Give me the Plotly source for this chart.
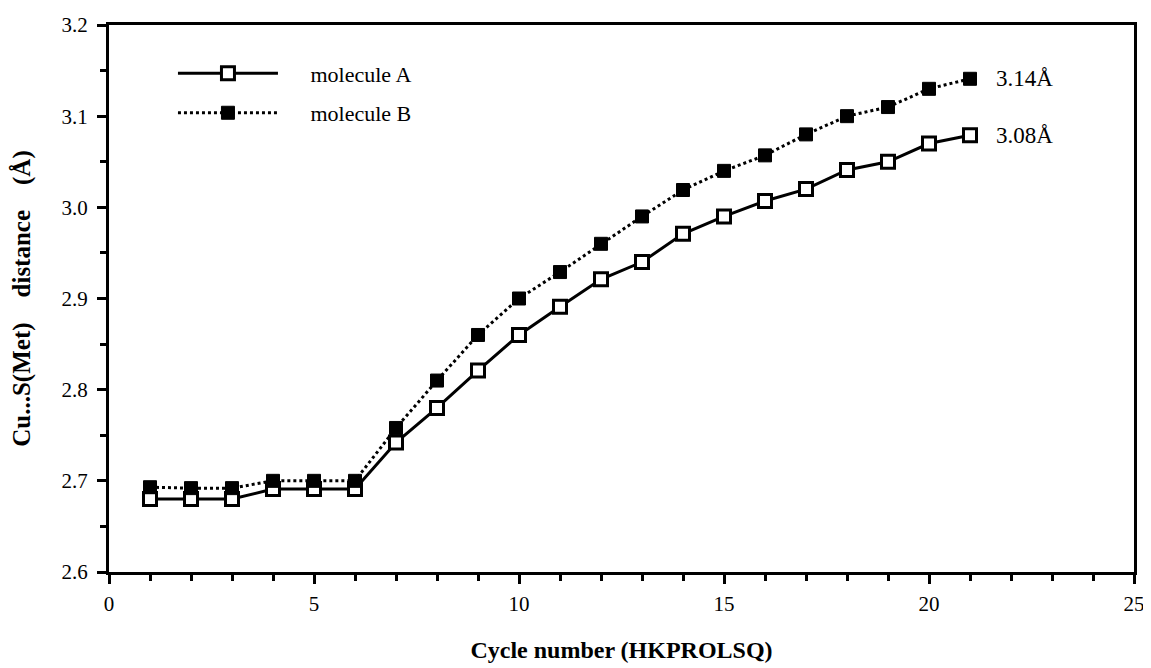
import plotly.graph_objects as go

cycles = list(range(1, 22))
mol_a = [2.680, 2.680, 2.680, 2.691, 2.691, 2.691, 2.742, 2.780, 2.821, 2.860, 2.891,
         2.921, 2.940, 2.971, 2.990, 3.007, 3.020, 3.041, 3.050, 3.070, 3.079]
mol_b = [2.693, 2.692, 2.692, 2.700, 2.700, 2.700, 2.758, 2.810, 2.860, 2.900, 2.929,
         2.960, 2.990, 3.019, 3.040, 3.057, 3.080, 3.100, 3.110, 3.130, 3.141]
series_names = ["molecule A", "molecule B"]
end_labels = ["3.14Å", "3.08Å"]

SERIF = "Liberation Serif"
PAD = "\u00a0" * 5

fig = go.Figure()
fig.add_trace(go.Scatter(
    x=cycles, y=mol_a, name=PAD + series_names[0], mode="lines+markers",
    line=dict(color="black", width=3),
    marker=dict(symbol="square", size=13, color="white", line=dict(color="black", width=3)),
    legendgroup="a",
))
fig.add_trace(go.Scatter(
    x=cycles, y=mol_b, name=PAD + series_names[1], mode="lines+markers",
    line=dict(color="black", width=3, dash="dot"),
    marker=dict(symbol="square", size=13, color="black", line=dict(color="black", width=1)),
    legendgroup="b",
))

fig.add_annotation(x=cycles[-1], y=mol_b[-1], text=end_labels[0], showarrow=False,
                   xanchor="left", xshift=24, font=dict(family=SERIF, size=23, color="black"))
fig.add_annotation(x=cycles[-1], y=mol_a[-1], text=end_labels[1], showarrow=False,
                   xanchor="left", xshift=24, font=dict(family=SERIF, size=23, color="black"))

fig.update_layout(
    width=1143, height=660,
    margin=dict(l=101, r=17, t=17, b=96),
    paper_bgcolor="white", plot_bgcolor="white",
    showlegend=True,
    legend=dict(x=0.0624, y=0.950, xanchor="left", yanchor="top",
                font=dict(family=SERIF, size=22, color="black"),
                itemwidth=100, tracegroupgap=8, bgcolor="rgba(0,0,0,0)"),
    xaxis=dict(
        range=[0, 25], tickvals=[0, 5, 10, 15, 20, 25], automargin=False,
        showline=True, linecolor="black", linewidth=3, mirror=True,
        ticks="outside", ticklen=9, tickwidth=3, tickcolor="black",
        minor=dict(dtick=1, ticks="outside", ticklen=6, tickwidth=2.5, tickcolor="black"),
        showgrid=False, zeroline=False, ticklabelstandoff=2,
        tickfont=dict(family=SERIF, size=21, color="black"),
        title=dict(text="<b>Cycle number (HKPROLSQ)</b>", standoff=26,
                   font=dict(family=SERIF, size=24, color="black")),
    ),
    yaxis=dict(
        range=[2.6, 3.2], tickvals=[2.6, 2.7, 2.8, 2.9, 3.0, 3.1, 3.2], automargin=False,
        ticktext=["2.6", "2.7", "2.8", "2.9", "3.0", "3.1", "3.2"],
        showline=True, linecolor="black", linewidth=3, mirror=True,
        ticks="outside", ticklen=9, tickwidth=3, tickcolor="black",
        minor=dict(dtick=0.05, tick0=2.6, ticks="outside", ticklen=6, tickwidth=2.5, tickcolor="black"),
        showgrid=False, zeroline=False, ticklabelstandoff=5,
        tickfont=dict(family=SERIF, size=21, color="black"),
        title=dict(text="<b>Cu...S(Met)    distance    (Å)</b>", standoff=27,
                   font=dict(family=SERIF, size=25, color="black")),
    ),
)

fig.write_html("out.html")
